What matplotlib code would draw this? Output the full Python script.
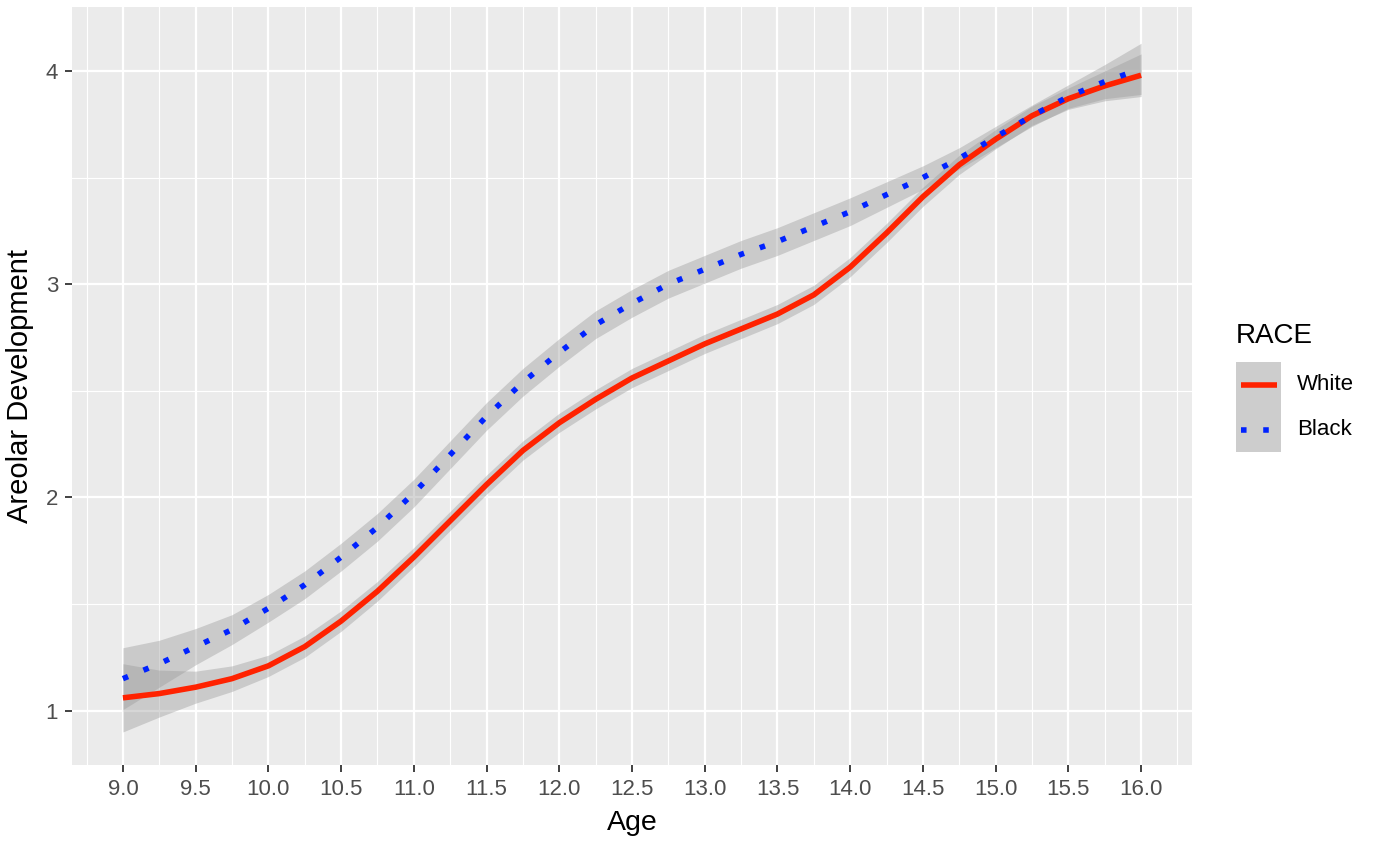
from matplotlib import pyplot as plt
from matplotlib.patches import Rectangle
import numpy as np

plt.rcParams['font.family'] = ['Liberation Sans', 'DejaVu Sans']
plt.rcParams['lines.scale_dashes'] = False

# ages (every quarter year)
age = [9.0, 9.25, 9.5, 9.75, 10.0, 10.25, 10.5, 10.75, 11.0, 11.25, 11.5, 11.75,
       12.0, 12.25, 12.5, 12.75, 13.0, 13.25, 13.5, 13.75, 14.0, 14.25, 14.5, 14.75,
       15.0, 15.25, 15.5, 15.75, 16.0]

# smoothed areolar development, White
white = [1.06, 1.08, 1.11, 1.15, 1.21, 1.30, 1.42, 1.56, 1.72, 1.89, 2.06, 2.22,
         2.35, 2.46, 2.56, 2.64, 2.72, 2.79, 2.86, 2.95, 3.08, 3.24, 3.41, 3.56,
         3.68, 3.79, 3.87, 3.93, 3.98]
white_se = [0.16, 0.11, 0.075, 0.06, 0.05, 0.05, 0.048, 0.046, 0.045, 0.045, 0.045, 0.045,
            0.045, 0.045, 0.045, 0.045, 0.045, 0.045, 0.045, 0.045, 0.045, 0.045, 0.045, 0.045,
            0.045, 0.045, 0.05, 0.07, 0.10]

# smoothed areolar development, Black
black = [1.15, 1.22, 1.30, 1.38, 1.48, 1.59, 1.72, 1.86, 2.02, 2.20, 2.38, 2.54,
         2.68, 2.81, 2.91, 3.00, 3.07, 3.14, 3.20, 3.27, 3.34, 3.42, 3.50, 3.59,
         3.69, 3.79, 3.88, 3.95, 4.01]
black_se = [0.145, 0.11, 0.085, 0.07, 0.065, 0.065, 0.065, 0.065, 0.065, 0.065, 0.065, 0.065,
            0.065, 0.065, 0.065, 0.065, 0.065, 0.065, 0.065, 0.065, 0.065, 0.06, 0.055, 0.05,
            0.05, 0.05, 0.055, 0.08, 0.12]

x_ticks = [9.0, 9.5, 10.0, 10.5, 11.0, 11.5, 12.0, 12.5, 13.0, 13.5, 14.0, 14.5, 15.0, 15.5, 16.0]
y_ticks = [1, 2, 3, 4]

race = ['White', 'Black']
race_color = {'White': '#ff2200', 'Black': '#0022ff'}
# dotted = 4pt dot, 12pt gap (unscaled)
race_style = {'White': '-', 'Black': (0, (4.0, 12.0))}
LW = 4.0

age = np.array(age)
series = {'White': (np.array(white), np.array(white_se)),
          'Black': (np.array(black), np.array(black_se))}

fig = plt.figure(figsize=(13.75, 8.44), dpi=100)
ax = fig.add_axes([72/1375, 1-765/844, (1192-72)/1375, (765-7)/844])
ax.set_facecolor('#ebebeb')

# ribbons + lines
for r in race:
    y, se = series[r]
    ax.fill_between(age, y - se, y + se, color='#999999', alpha=0.4, lw=0, zorder=2)
for i, r in enumerate(race):
    y, se = series[r]
    ax.plot(age, y, color=race_color[r], lw=LW, linestyle=race_style[r],
            solid_capstyle='butt', solid_joinstyle='round', dash_capstyle='butt', zorder=3 + i)

ax.set_xlim(8.65, 16.35)
ax.set_ylim(0.745, 4.3)
ax.set_xticks(x_ticks)
ax.set_xticklabels(['%.1f' % t for t in x_ticks])
ax.set_yticks(y_ticks)
ax.set_xticks(np.arange(8.75, 16.4, 0.5), minor=True)
ax.set_yticks([1.5, 2.5, 3.5], minor=True)

ax.grid(which='major', color='white', lw=1.6, zorder=0)
ax.grid(which='minor', color='white', lw=0.8, zorder=0)
ax.set_axisbelow(True)
for s in ax.spines.values():
    s.set_visible(False)

ax.tick_params(which='major', length=5, width=1.3, color='#333333', labelcolor='#4d4d4d', labelsize=16, pad=5)
ax.tick_params(which='minor', length=0)

ax.set_xlabel('Age', fontsize=20.5, labelpad=7)
ax.set_ylabel('Areolar Development', fontsize=21, labelpad=8)

# legend drawn by hand (pixel coords inside a small axes)
lax = fig.add_axes([1230/1375, 1-470/844, 145/1375, 160/844])
lax.set_xlim(1230, 1375)
lax.set_ylim(470, 310)
lax.axis('off')
lax.text(1236, 336, 'RACE', fontsize=20, va='center', ha='left')
for i, r in enumerate(race):
    top = 362 + i * 45
    lax.add_patch(Rectangle((1236, top), 45, 45, facecolor='#cdcdcd', edgecolor='none'))
    lax.plot([1241, 1277], [top + 22.5, top + 22.5], color=race_color[r], lw=LW,
             linestyle=race_style[r], solid_capstyle='butt', dash_capstyle='butt')
    lax.text(1297, top + 22.5, r, fontsize=16, va='center', ha='left')

plt.savefig('out.png', dpi=100)
